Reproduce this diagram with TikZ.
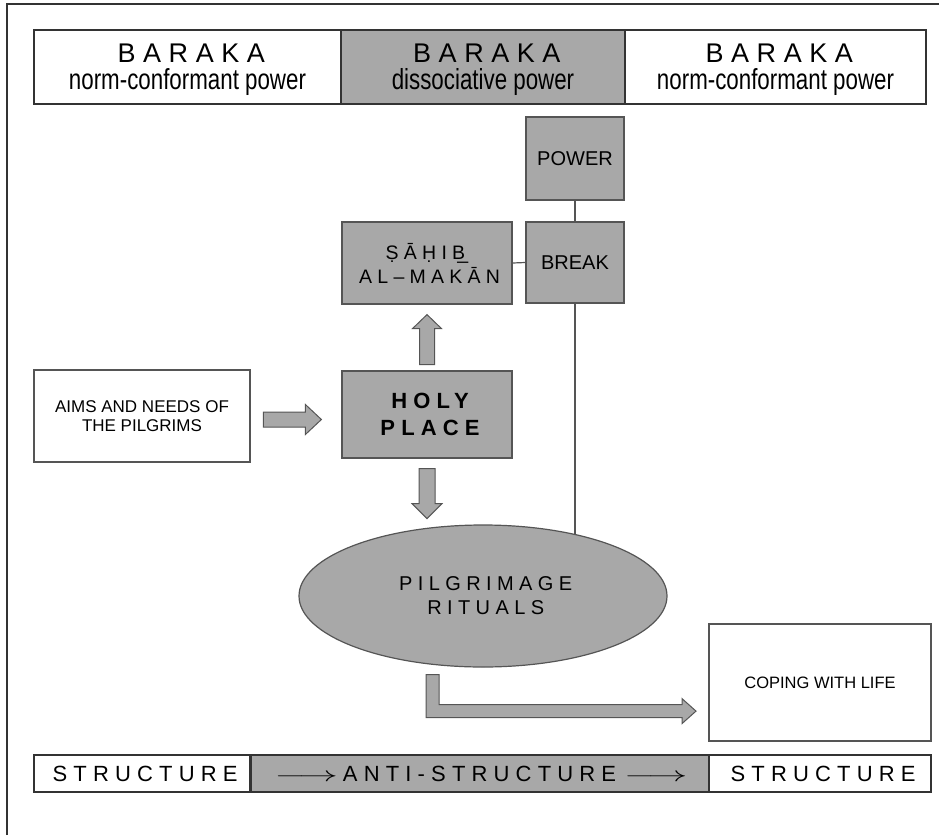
\documentclass[tikz,border=0pt]{standalone}
\usepackage{fontspec}
\setmainfont{Liberation Sans}
\usepackage{graphicx}
\usetikzlibrary{shapes.geometric,backgrounds,calc}
\definecolor{gfill}{HTML}{A8A8A8}
\definecolor{bdark}{HTML}{333333}
\definecolor{bgray}{HTML}{555555}
\newcommand\spc[2]{{\addfontfeature{LetterSpace=#1}#2}\kern-\dimexpr #1em/100\relax}
\newcommand\fs[2]{\fontsize{#1}{#2}\selectfont}
\newcommand\lgarrow{\scalebox{1.9}[1]{$\longrightarrow$}}
\tikzset{
  bar/.style={draw=bdark, line width=1.5pt, inner sep=0pt, align=center},
  barw/.style={bar, fill=white},
  barg/.style={bar, fill=gfill},
  gbox/.style={draw=bgray, line width=1.2pt, fill=gfill, inner sep=0pt, align=center},
  wbox/.style={draw=bgray, line width=1.2pt, fill=white, inner sep=0pt, align=center},
  link/.style={draw=bgray, line width=1.2pt},
  blockarrow/.style={draw=bgray, line width=1pt, fill=gfill, line join=miter},
  frameline/.style={draw=bdark, line width=2pt},
  toptext/.style={font=\fs{27}{27}, text depth=0pt},
}
\begin{document}
\begin{tikzpicture}[x=1pt,y=-1pt]
\useasboundingbox (0,0) rectangle (939,835);
% frame
\draw[frameline] (7,835) -- (7,4) -- (939,4);
% top bar
\node[barw, toptext, minimum width=307pt, minimum height=74pt] (tl) at (187.5,67)
  {\spc{28}{BARAKA}\\{\fs{29}{27}\scalebox{0.77}[1]{norm-conformant power}}};
\node[barg, toptext, minimum width=284pt, minimum height=74pt] (tm) at (483,67)
  {\spc{28}{BARAKA}\\{\fs{29}{27}\scalebox{0.77}[1]{dissociative power}}};
\node[barw, toptext, minimum width=301pt, minimum height=74pt] (tr) at (775.5,67)
  {\spc{28}{BARAKA}\\{\fs{29}{27}\scalebox{0.77}[1]{norm-conformant power}}};
% boxes
\node[gbox, font=\fs{20}{24}, minimum width=98pt, minimum height=83pt] (power) at (575,158.5) {POWER};
\node[gbox, font=\fs{20}{24}, minimum width=98pt, minimum height=81pt] (brk) at (575,262.5) {BREAK};
\node[gbox, font=\fs{19.5}{24}, text depth=0pt, minimum width=170pt, minimum height=82pt] (sahib) at (427,263)
  {{\addfontfeature{LetterSpace=27}ṢĀḤIB}\kern-0.4em\_\\\spc{27}{AL–MAKĀN}};
\node[gbox, font=\fs{22}{27}\bfseries, minimum width=170pt, minimum height=87pt] (holy) at (427,414.5)
  {\spc{28}{HOLY}\\\spc{28}{PLACE}};
\node[wbox, font=\fs{17}{19.5}, minimum width=216pt, minimum height=92pt] (aims) at (142,416)
  {AIMS AND NEEDS OF\\THE PILGRIMS};
\node[ellipse, draw=bgray, fill=gfill, line width=1.2pt, inner sep=0pt, align=center,
  font=\fs{20}{24}, minimum width=368pt, minimum height=142pt] (ell) at (483,596)
  {\spc{27}{PILGRIMAGE}\\\spc{27}{RITUALS}};
\node[wbox, font=\fs{16.5}{20}, minimum width=222pt, minimum height=117pt] (coping) at (820,682.5)
  {COPING WITH LIFE};
% bottom bar
\node[barw, font=\fs{22}{24}, minimum width=216pt, minimum height=37pt] (bl) at (142,773.5) {\spc{28}{STRUCTURE}};
\node[barg, font=\fs{22}{24}, minimum width=459pt, minimum height=37pt] (bm) at (481,773.5)
  {\lgarrow\hspace{5pt}\spc{28}{ANTI-STRUCTURE}\hspace{14pt}\lgarrow};
\node[barw, font=\fs{22}{24}, minimum width=222pt, minimum height=37pt] (br) at (820,773.5) {\spc{28}{STRUCTURE}};
% links
\draw[link] (power.south) -- (brk.north);
\draw[link] (sahib.east) -- (brk.west);
\begin{scope}[on background layer]
\draw[link] (brk.south) -- (brk.south |- ell.center);
\end{scope}
% block arrows
\begin{scope}[shift={(sahib.south)}]
\draw[blockarrow] (-7.5,60) -- (-7.5,24) -- (-14.5,24) -- (0,10) -- (14.5,24) -- (7.5,24) -- (7.5,60) -- cycle;
\end{scope}
\begin{scope}[shift={(holy.west)}]
\draw[blockarrow] (-78,-2.5) -- (-36,-2.5) -- (-36,-10) -- (-20,5) -- (-36,20) -- (-36,12.5) -- (-78,12.5) -- cycle;
\end{scope}
\begin{scope}[shift={(holy.south)}]
\draw[blockarrow] (-8,10) -- (-8,45) -- (-15,45) -- (0,60) -- (15,45) -- (8,45) -- (8,10) -- cycle;
\end{scope}
\begin{scope}[shift={(ell.south)}]
\draw[blockarrow] (-57,7) -- (-57,50) -- (199,50) -- (199,56) -- (213,43.5) -- (199,31) -- (199,37) -- (-44,37) -- (-44,7) -- cycle;
\end{scope}
\end{tikzpicture}
\end{document}
